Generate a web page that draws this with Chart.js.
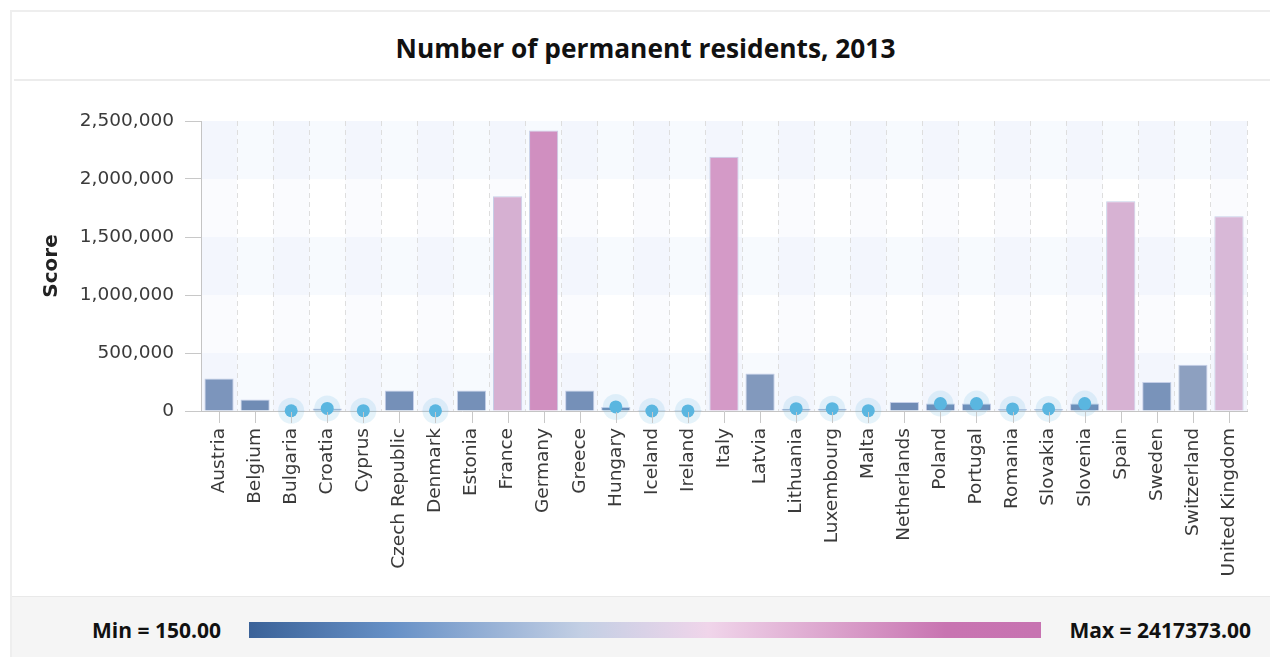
<!DOCTYPE html>
<html>
<head>
<meta charset="utf-8">
<script src="https://cdn.jsdelivr.net/npm/chart.js@4.4.1/dist/chart.umd.min.js"></script>
<style>
  html, body { margin: 0; padding: 0; background: #ffffff; }
  body { width: 1270px; height: 657px; position: relative; overflow: hidden; }
  #frame { position: absolute; left: 10px; top: 10px; width: 1270px; height: 660px; border-left: 2px solid #eeeeee; border-top: 2px solid #eeeeee; }
  #title { position: absolute; left: 12px; width: 1267px; top: 31px; line-height: 34px; text-align: center;
           font-family: 'Open Sans', sans-serif; font-weight: bold; font-size: 26.3px; color: #111; }
  #sep { position: absolute; left: 14px; top: 79px; width: 1256px; height: 2px; background: #ececec; }
  #chartWrap { position: absolute; left: 12px; top: 82px; width: 1258px; height: 513px; }
  #footer { position: absolute; left: 12px; top: 596px; width: 1258px; height: 61px; background: #f5f5f5; border-top: 1px solid #e9e9e9; }
  .lg { position: absolute; top: 616px; line-height: 28px; font-family: 'Open Sans', sans-serif; font-weight: bold; font-size: 21px; color: #111; white-space: nowrap; }
  #minLbl { left: 92px; }
  #maxLbl { right: 19px; }
  #gradBar { position: absolute; left: 249px; top: 622px; width: 792px; height: 16px; }
</style>
</head>
<body>
<div id="frame"></div>
<div id="title">Number of permanent residents, 2013</div>
<div id="sep"></div>
<div id="chartWrap"><canvas id="c" width="1258" height="513"></canvas></div>
<div id="footer"></div>
<div class="lg" id="minLbl"></div>
<div id="gradBar"></div>
<div class="lg" id="maxLbl"></div>
<script>
const categories = ['Austria','Belgium','Bulgaria','Croatia','Cyprus','Czech Republic','Denmark','Estonia','France','Germany','Greece','Hungary','Iceland','Ireland','Italy','Latvia','Lithuania','Luxembourg','Malta','Netherlands','Poland','Portugal','Romania','Slovakia','Slovenia','Spain','Sweden','Switzerland','United Kingdom'];
const residents = [280000, 100000, 2000, 22000, 3000, 176000, 1500, 176000, 1851000, 2417373, 176000, 35000, 150, 1000, 2192000, 324000, 20000, 20000, 2500, 78000, 64000, 64000, 18000, 18000, 64000, 1808000, 250000, 398000, 1678000];
const yTickValues = [0, 500000, 1000000, 1500000, 2000000, 2500000];
const markerThreshold = 70000;

const legendStops = [[0,'#3b6298'],[0.18,'#6690c6'],[0.42,'#c3cfe4'],[0.58,'#f0d5ea'],[0.88,'#c874b1'],[1,'#c773b1']];
const barStops = [[0,'#6a87b2'],[0.11,'#7a94bb'],[0.165,'#8da0c0'],[0.69,'#d8b8d7'],[0.77,'#d6b0d2'],[0.9,'#d49bc8'],[1,'#d08fc0']];
const minVal = Math.min(...residents);
const maxVal = Math.max(...residents);

function hexToRgb(h){ return [parseInt(h.slice(1,3),16),parseInt(h.slice(3,5),16),parseInt(h.slice(5,7),16)]; }
function colorAt(stops, f){
  for (let i = 0; i < stops.length - 1; i++) {
    const [p0,c0] = stops[i], [p1,c1] = stops[i+1];
    if (f <= p1) {
      const t = (f - p0) / (p1 - p0);
      const A = hexToRgb(c0), B = hexToRgb(c1);
      const c = A.map((v,k) => Math.round(v + (B[k]-v)*t));
      return `rgb(${c[0]},${c[1]},${c[2]})`;
    }
  }
  return stops[stops.length-1][1];
}
const barColors = residents.map(v => colorAt(barStops, (v - minVal) / (maxVal - minVal)));
const markerValues = residents.map(v => v < markerThreshold ? v : null);

document.getElementById('minLbl').textContent = 'Min = ' + minVal.toFixed(2);
document.getElementById('maxLbl').textContent = 'Max = ' + maxVal.toFixed(2);
document.getElementById('gradBar').style.background = 'linear-gradient(to right, ' + legendStops.map(s => s[1] + ' ' + (s[0]*100) + '%').join(', ') + ')';

const fmt = v => v.toString().replace(/\B(?=(\d{3})+(?!\d))/g, ',');

const bgPlugin = {
  id: 'bands',
  beforeDraw(chart) {
    const {ctx, chartArea: ca, scales: {x, y}} = chart;
    ctx.save();
    for (let i = 0; i < yTickValues.length - 1; i++) {
      if (i % 2 === 0) {
        const yb = y.getPixelForValue(yTickValues[i]);
        const yt = y.getPixelForValue(yTickValues[i+1]);
        ctx.fillStyle = 'rgba(220,230,250,0.22)';
        ctx.fillRect(ca.left, yt, ca.right - ca.left, yb - yt);
      }
    }
    const half = (x.getPixelForValue(1) - x.getPixelForValue(0)) / 2;
    for (let i = 0; i < categories.length; i += 2) {
      const cx = x.getPixelForValue(i);
      ctx.fillStyle = 'rgba(220,230,250,0.14)';
      ctx.fillRect(cx - half, ca.top, half * 2, ca.bottom - ca.top);
    }
    ctx.restore();
  },
  afterDraw(chart) {
    const {ctx, chartArea: ca, scales: {x}} = chart;
    ctx.save();
    ctx.strokeStyle = '#c8c8c8';
    ctx.lineWidth = 1;
    for (let i = 0; i < categories.length; i++) {
      const cx = Math.round(x.getPixelForValue(i)) + 0.5;
      ctx.beginPath();
      ctx.moveTo(cx, ca.bottom + 1);
      ctx.lineTo(cx, ca.bottom + 12);
      ctx.stroke();
    }
    ctx.restore();
  }
};

new Chart(document.getElementById('c'), {
  type: 'bar',
  data: {
    labels: categories,
    datasets: [
      { type: 'line', data: markerValues, showLine: false, clip: false, pointRadius: 6.5, pointBackgroundColor: '#5ab6e0', pointBorderWidth: 0, order: 0 },
      { type: 'line', data: markerValues, showLine: false, clip: false, pointRadius: 13, pointBackgroundColor: 'rgba(91,182,224,0.16)', pointBorderWidth: 0, order: 1 },
      { data: residents, backgroundColor: barColors, borderColor: 'rgba(185,196,226,0.8)', borderWidth: 1, barPercentage: 0.81, categoryPercentage: 1, order: 2 }
    ]
  },
  options: {
    responsive: false,
    animation: false,
    events: [],
    layout: { padding: { top: 39, right: 23, left: 0, bottom: 0 } },
    plugins: { legend: { display: false }, tooltip: { enabled: false } },
    scales: {
      x: {
        offset: true,
        grid: { display: true, offset: true, drawOnChartArea: true, drawTicks: false, color: '#dedede', lineWidth: 1 },
        border: { display: true, color: '#c4c4c4', dash: [5, 4] },
        ticks: { autoSkip: false, maxRotation: 90, minRotation: 90, padding: 17, color: '#3a3a3a', font: { family: 'DejaVu Sans', size: 18.5 } },
        afterFit(s) { s.height = 184; }
      },
      y: {
        min: 0, max: 2500000,
        afterBuildTicks(s) { s.ticks = yTickValues.map(v => ({ value: v })); },
        ticks: { padding: 11, color: '#3a3a3a', font: { family: 'DejaVu Sans', size: 18.5 }, callback: v => fmt(v) },
        grid: { drawOnChartArea: false, drawTicks: true, tickLength: 16, tickColor: '#c8c8c8' },
        border: { display: true, color: '#c4c4c4' },
        title: { display: true, text: 'Score', color: '#222', font: { family: 'DejaVu Sans', size: 20, weight: 'bold' }, padding: { top: 28, bottom: 0 } },
        afterFit(s) { s.width = 189; }
      }
    }
  },
  plugins: [bgPlugin]
});
</script>
</body>
</html>
